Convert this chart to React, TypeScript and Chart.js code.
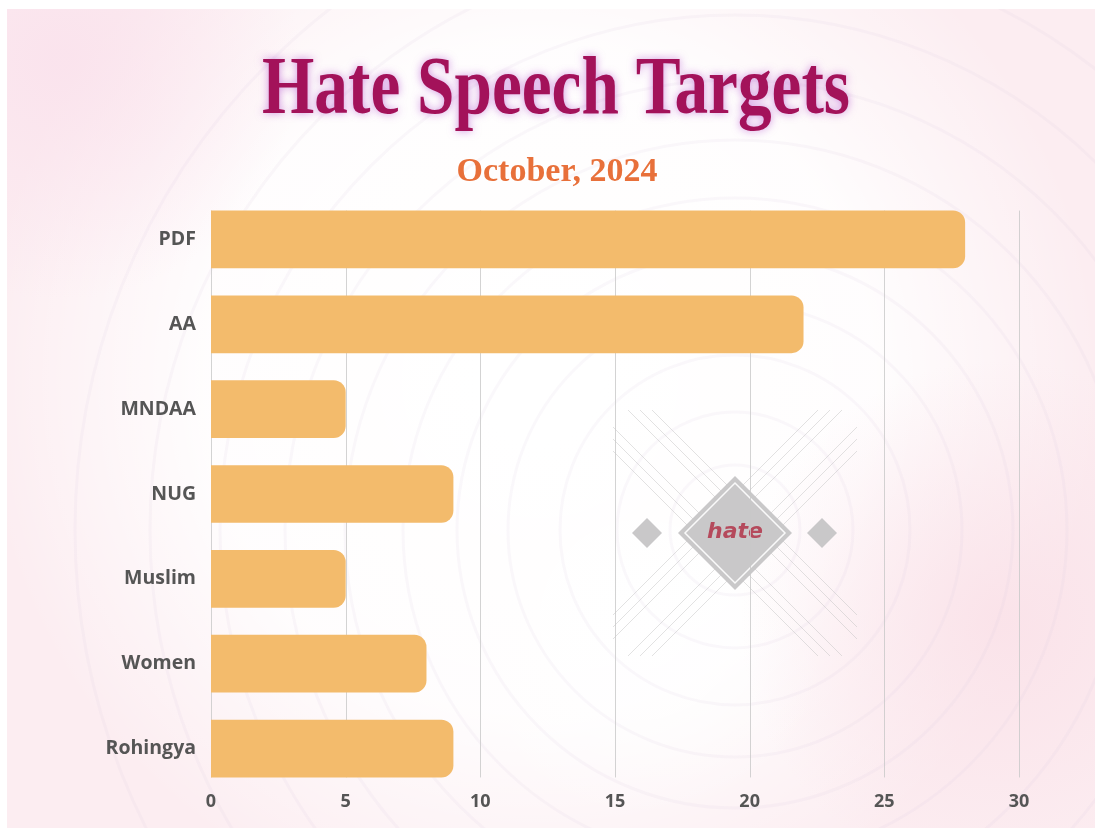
import React, { useEffect, useRef } from "react";
import { Chart, registerables } from "chart.js";

Chart.register(...registerables);

const categories: string[] = ["PDF", "AA", "MNDAA", "NUG", "Muslim", "Women", "Rohingya"];
const values: number[] = [28, 22, 5, 9, 5, 8, 9];
const xTicks: number[] = [0, 5, 10, 15, 20, 25, 30];
const titleText = "Hate Speech Targets";
const subtitleText = "October, 2024";
const watermarkText = "hate";

const W = 1095;
const H = 828;

function drawBackground(ctx: CanvasRenderingContext2D) {
  ctx.save();
  ctx.fillStyle = "#ffffff";
  ctx.fillRect(0, 0, W, H);
  const cx0 = 7, cy0 = 9;
  ctx.beginPath();
  ctx.rect(cx0, cy0, W - cx0, H - cy0);
  ctx.clip();
  ctx.fillStyle = "#fcedf1";
  ctx.fillRect(cx0, cy0, W, H);
  const g1 = ctx.createRadialGradient(540, 380, 60, 540, 380, 560);
  g1.addColorStop(0, "rgba(255,255,255,1)");
  g1.addColorStop(0.55, "rgba(255,255,255,0.9)");
  g1.addColorStop(1, "rgba(255,255,255,0)");
  ctx.fillStyle = g1;
  ctx.fillRect(cx0, cy0, W, H);
  const g2 = ctx.createRadialGradient(640, 620, 20, 640, 620, 200);
  g2.addColorStop(0, "rgba(255,255,255,0.9)");
  g2.addColorStop(1, "rgba(255,255,255,0)");
  ctx.fillStyle = g2;
  ctx.fillRect(cx0, cy0, W, H);
  const g3 = ctx.createRadialGradient(60, 60, 10, 60, 60, 240);
  g3.addColorStop(0, "rgba(250,225,236,0.8)");
  g3.addColorStop(1, "rgba(250,225,236,0)");
  ctx.fillStyle = g3;
  ctx.fillRect(cx0, cy0, W, H);
  const g4 = ctx.createRadialGradient(1000, 620, 10, 1000, 620, 260);
  g4.addColorStop(0, "rgba(250,225,232,0.85)");
  g4.addColorStop(1, "rgba(250,225,232,0)");
  ctx.fillStyle = g4;
  ctx.fillRect(cx0, cy0, W, H);
  const ccx = 735, ccy = 530;
  ctx.lineWidth = 3;
  ctx.strokeStyle = "rgba(215,200,225,0.13)";
  [65, 118, 175, 227, 278, 332, 390, 450, 515, 585, 660].forEach((r) => {
    ctx.beginPath();
    ctx.arc(ccx, ccy, r, 0, Math.PI * 2);
    ctx.stroke();
  });
  ctx.restore();
}

function drawWatermark(ctx: CanvasRenderingContext2D) {
  const cx = 735, cy = 533;
  ctx.save();
  ctx.save();
  ctx.beginPath();
  ctx.rect(613, 410, 244, 246);
  ctx.clip();
  ctx.strokeStyle = "rgba(190,190,190,0.45)";
  ctx.lineWidth = 1;
  const offs = [-40, -28, -16, 16, 28, 40];
  offs.forEach((o) => {
    ctx.beginPath();
    ctx.moveTo(cx - 140 + o, cy - 140);
    ctx.lineTo(cx + 140 + o, cy + 140);
    ctx.stroke();
    ctx.beginPath();
    ctx.moveTo(cx + 140 + o, cy - 140);
    ctx.lineTo(cx - 140 + o, cy + 140);
    ctx.stroke();
  });
  ctx.restore();
  const diamond = (x: number, y: number, r: number) => {
    ctx.beginPath();
    ctx.moveTo(x, y - r);
    ctx.lineTo(x + r, y);
    ctx.lineTo(x, y + r);
    ctx.lineTo(x - r, y);
    ctx.closePath();
  };
  ctx.fillStyle = "#c9c8c9";
  diamond(cx, cy, 57);
  ctx.fill();
  ctx.strokeStyle = "rgba(255,255,255,0.9)";
  ctx.lineWidth = 1.5;
  diamond(cx, cy, 50);
  ctx.stroke();
  ctx.fillStyle = "#c9c8c9";
  diamond(647, cy, 15);
  ctx.fill();
  diamond(822, cy, 15);
  ctx.fill();
  ctx.fillStyle = "#b54a5c";
  ctx.font = "italic bold 22px 'DejaVu Sans'";
  ctx.textAlign = "center";
  ctx.textBaseline = "middle";
  ctx.fillText(watermarkText, cx, cy - 1);
  ctx.restore();
}

function drawTitles(ctx: CanvasRenderingContext2D) {
  ctx.save();
  ctx.textAlign = "center";
  ctx.textBaseline = "alphabetic";
  ctx.font = "bold 82px 'Liberation Serif'";
  ctx.shadowColor = "rgba(170,60,200,0.55)";
  ctx.shadowBlur = 8;
  ctx.fillStyle = "#a3125a";
  ctx.fillText(titleText, 556, 113, 588);
  ctx.shadowBlur = 0;
  ctx.shadowColor = "transparent";
  ctx.font = "bold 34px 'Liberation Serif'";
  ctx.fillStyle = "#e8703a";
  ctx.fillText(subtitleText, 557, 181, 212);
  ctx.restore();
}

const decorPlugin = {
  id: "decor",
  beforeDraw(chart: any) {
    const ctx = chart.ctx as CanvasRenderingContext2D;
    drawBackground(ctx);
    drawTitles(ctx);
    drawWatermark(ctx);
  },
  beforeDatasetsDraw(chart: any) {
    const ctx = chart.ctx as CanvasRenderingContext2D;
    const meta = chart.getDatasetMeta(0);
    const bars = meta.data;
    if (!bars.length) return;
    const first = bars[0].getProps(["y", "height"], true);
    const last = bars[bars.length - 1].getProps(["y", "height"], true);
    const top = first.y - first.height / 2;
    const bottom = last.y + last.height / 2;
    const xs = chart.scales.x;
    ctx.save();
    ctx.strokeStyle = "rgba(200,200,200,0.8)";
    ctx.lineWidth = 1;
    xTicks.forEach((t) => {
      const px = Math.round(xs.getPixelForValue(t)) + 0.5;
      ctx.beginPath();
      ctx.moveTo(px, top);
      ctx.lineTo(px, bottom);
      ctx.stroke();
    });
    ctx.restore();
  },
};

export default function App() {
  const ref = useRef<HTMLCanvasElement | null>(null);
  useEffect(() => {
    if (!ref.current) return;
    const chart = new Chart(ref.current, {
      type: "bar",
      data: {
        labels: categories,
        datasets: [
          {
            data: values,
            backgroundColor: "#f3bb6c",
            borderWidth: 0,
            borderSkipped: "start",
            borderRadius: { topLeft: 0, bottomLeft: 0, topRight: 12, bottomRight: 12 },
            barPercentage: 0.68,
            categoryPercentage: 1,
          },
        ],
      },
      options: {
        indexAxis: "y",
        responsive: false,
        animation: false,
        devicePixelRatio: 1,
        layout: { padding: { left: 0, top: 197, right: 76, bottom: 0 } },
        plugins: { legend: { display: false }, tooltip: { enabled: false }, title: { display: false } },
        scales: {
          x: {
            min: 0,
            max: 30,
            grid: { display: false, drawTicks: false },
            border: { display: false },
            afterBuildTicks: (s: any) => {
              s.ticks = xTicks.map((v) => ({ value: v }));
            },
            afterFit: (s: any) => {
              s.height = 37;
            },
            ticks: {
              padding: 0,
              color: "#555555",
              font: { family: "'Open Sans'", size: 18, weight: "bold" },
            },
          },
          y: {
            grid: { display: false, drawTicks: false },
            border: { display: false },
            afterFit: (s: any) => {
              s.width = 211;
            },
            ticks: {
              padding: 15,
              color: "#555555",
              font: { family: "'Open Sans'", size: 19.5, weight: "bold" },
            },
          },
        },
      },
      plugins: [decorPlugin],
    } as any);
    return () => chart.destroy();
  }, []);
  return (
    <div style={{ position: "absolute", left: 0, top: 0, width: W, height: H }}>
      <canvas ref={ref} width={W} height={H} style={{ display: "block", width: W, height: H }} />
    </div>
  );
}
